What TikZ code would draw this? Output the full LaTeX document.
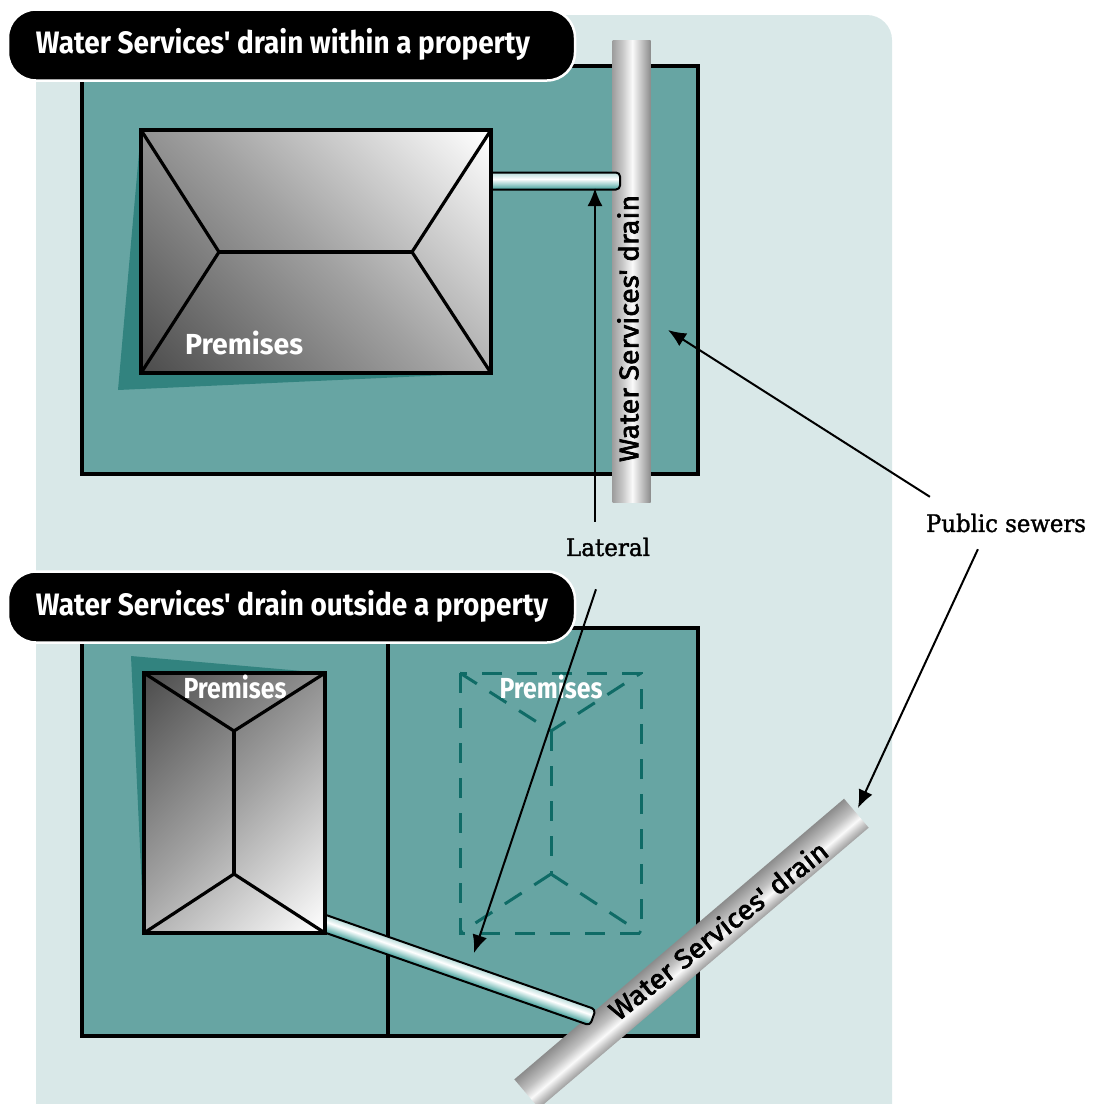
\documentclass[tikz,border=0pt]{standalone}
\usepackage{fontspec}
\usetikzlibrary{arrows.meta}
\setmainfont{Fira Sans}
\newfontfamily\titlefont{Fira Sans}
\newfontfamily\pipefont[FakeBold=2.5]{Fira Sans}
\newfontfamily\labelfont[FakeBold=1.5]{DejaVu Serif}
\newcommand{\fitw}[2]{\resizebox{#1}{\height}{#2}}
\definecolor{paleBg}{HTML}{D9E8E8}
\definecolor{panelGreen}{HTML}{67A5A3}
\definecolor{shadowGreen}{HTML}{32837F}
\definecolor{dashGreen}{HTML}{0F6B66}
\definecolor{lat1}{HTML}{3E9C97}
\definecolor{lat2}{HTML}{9FD0CD}
\definecolor{lat3}{HTML}{B5DAD8}
\pgfdeclarehorizontalshading{roofshade}{100bp}{
  color(0bp)=(black!70!white);
  color(15bp)=(black!70!white);
  color(50bp)=(black!37!white);
  color(85bp)=(white);
  color(100bp)=(white)}
\pgfdeclareverticalshading{drainshadeA}{100bp}{
  color(0bp)=(black!45!white);
  color(25bp)=(black!45!white);
  color(36bp)=(black!25!white);
  color(49bp)=(black!2!white);
  color(62bp)=(black!22!white);
  color(75bp)=(black!38!white);
  color(100bp)=(black!38!white)}
\pgfdeclareverticalshading{drainshadeB}{100bp}{
  color(0bp)=(black!38!white);
  color(25bp)=(black!38!white);
  color(33bp)=(black!22!white);
  color(42bp)=(black!2!white);
  color(56bp)=(black!25!white);
  color(75bp)=(black!45!white);
  color(100bp)=(black!45!white)}
\pgfdeclareverticalshading{lateralshade}{100bp}{
  color(0bp)=(lat1);
  color(25bp)=(lat1);
  color(40bp)=(lat2);
  color(56bp)=(white);
  color(75bp)=(lat3);
  color(100bp)=(lat3)}
\tikzset{
  panel/.style={draw=black,line width=3.5pt,fill=panelGreen},
  pill/.style={rectangle,draw=white,line width=2.5pt,fill=black,rounded corners=28pt,minimum width=567pt,minimum height=71pt,inner sep=0pt},
  titletext/.style={text=white,inner sep=0pt,font=\fontsize{31}{33}\selectfont\titlefont\bfseries},
  roof/.style={shading=roofshade},
  roofline/.style={draw=black,line width=3.2pt,line join=miter},
  houseshadow/.style={fill=shadowGreen},
  premtext/.style={text=white,inner sep=0pt,font=\fontsize{29}{31}\selectfont\bfseries},
  ghost/.style={draw=dashGreen,line width=3pt,dash pattern=on 20pt off 15pt},
  drain/.style={rectangle,minimum height=38pt,inner sep=0pt},
  lateralpipe/.style={rectangle,draw=black,line width=2pt,shading=lateralshade,minimum height=17pt,inner sep=0pt,rounded corners=4pt},
  draintext/.style={text=black,inner sep=0pt,font=\fontsize{27}{29}\selectfont\pipefont},
  calltext/.style={text=black,inner sep=0pt,font=\fontsize{24}{26}\selectfont\labelfont},
  callout/.style={draw=black,line width=2pt,-{Latex[length=18pt,width=15pt]}}
}
\begin{document}
\begin{tikzpicture}[x=1pt,y=-1pt]
\useasboundingbox (0,0) rectangle (1098,1104);
% background
\fill[paleBg] (36,15) [rounded corners=25pt] -- (892,15) [sharp corners] -- (892,1104) -- (36,1104) -- cycle;
% panels
\path[panel] (82,66) rectangle (698,474);
\path[panel] (82,628) rectangle (698,1036);
\draw[black,line width=3.5pt] (388,628) -- (388,1036);
% upper premises
\path[houseshadow] (141,130) -- (118,390) -- (491,373) -- cycle;
\begin{scope}[transform canvas={shift={(631.5,271)},rotate=90}]
\node[drain,shading=drainshadeA,minimum width=462pt] (drainA) at (0,0) {};
\end{scope}
\node[lateralpipe,minimum width=135pt] (latA) at (552.5,181) {};
\path[roof,shading angle=45] (141,130) rectangle (491,373);
\coordinate (a1) at (219,252);
\coordinate (a2) at (412,252);
\draw[roofline] (141,130) -- (a1) -- (141,373);
\draw[roofline] (491,130) -- (a2) -- (491,373);
\draw[roofline] (a1) -- (a2);
\draw[black,line width=3.2pt] (141,130) rectangle (491,373);
\node[premtext] (premA) at (244,343) {\fitw{118pt}{Premises}};
\node[draintext,rotate=90] (drainAtext) at (628,328.5) {\fitw{267pt}{Water Services' drain}};
% diagonal drain
\begin{scope}[transform canvas={shift={(691.5,953.5)},rotate=40.4}]
\node[drain,shading=drainshadeB,minimum width=433pt] (drainB) at (0,0) {};
\end{scope}
% lower premises
\path[houseshadow] (131,656) -- (144,933) -- (325,673) -- cycle;
\begin{scope}[transform canvas={shift={(456,969.5)},rotate=-19.3}]
\node[lateralpipe,minimum width=290pt] (latB) at (0,0) {};
\end{scope}
\path[roof,shading angle=-45] (144,673) rectangle (325,933);
\coordinate (b1) at (234,731);
\coordinate (b2) at (234,874);
\draw[roofline] (144,673) -- (b1) -- (325,673);
\draw[roofline] (144,933) -- (b2) -- (325,933);
\draw[roofline] (b1) -- (b2);
\draw[black,line width=3.2pt] (144,673) rectangle (325,933);
\node[premtext] (premB) at (235,687) {\fitw{103pt}{Premises}};
% neighbouring premises
\draw[ghost] (460,673) rectangle (641,933);
\draw[ghost] (460,673) -- (551,731) -- (641,673);
\draw[ghost] (551,731) -- (551,874);
\draw[ghost] (551,874) -- (460,933);
\draw[ghost] (551,874) -- (641,933);
\node[premtext] (premC) at (551,687) {\fitw{103pt}{Premises}};
\node[draintext,rotate=38.2] (drainBtext) at (718,930) {\fitw{270pt}{Water Services' drain}};
% headers
\node[pill] (pillA) at (291.5,45) {};
\node[titletext] (titleA) at (283,44) {\fitw{494pt}{Water Services' drain within a property}};
\node[pill] (pillB) at (291.5,607) {};
\node[titletext] (titleB) at (292,606) {\fitw{512pt}{Water Services' drain outside a property}};
% callouts
\node[calltext,minimum height=50pt] (lateral) at (608,547) {\fitw{84pt}{Lateral}};
\node[calltext,minimum height=52pt] (sewers) at (1006,523) {\fitw{160pt}{Public sewers}};
\coordinate (tLatA) at (595,188);
\coordinate (tLatB) at (474,953);
\coordinate (tDrainA) at (668,330);
\coordinate (tDrainB) at (858,808);
\draw[callout] (lateral.north -| tLatA) -- (tLatA);
\draw[callout,shorten <=18pt] (lateral.256) -- (tLatB);
\draw[callout] (sewers.161) -- (tDrainA);
\draw[callout] (sewers.223) -- (tDrainB);
\end{tikzpicture}
\end{document}
